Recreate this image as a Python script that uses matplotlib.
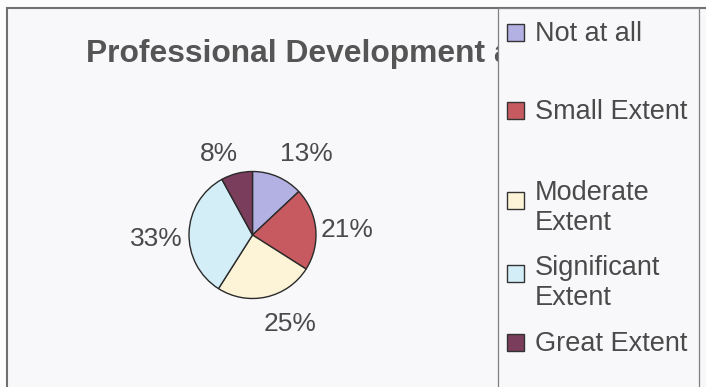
import matplotlib
matplotlib.use("Agg")
import matplotlib.pyplot as plt
from matplotlib.patches import Rectangle
import numpy as np

# Survey responses (percent of respondents)
categories = ["Not at all", "Small Extent", "Moderate Extent", "Significant Extent", "Great Extent"]
shares = [13, 21, 25, 33, 8]
colors = ["#b3b0e4", "#c65a60", "#fdf3d6", "#d4eef8", "#7b3d5c"]
legend_lines = [["Not at all"], ["Small Extent"], ["Moderate", "Extent"],
                ["Significant", "Extent"], ["Great Extent"]]
title = "Professional Development a"

W, H = 706, 387
BG = "#f8f8fa"
TXT = "#4a4a4a"
FONT = "Liberation Sans"

fig = plt.figure(figsize=(W / 100, H / 100), dpi=100)
fig.patch.set_facecolor("#fcfcfc")
ax = fig.add_axes([0, 0, 1, 1])

# pie in pixel-like coordinates (y grows downwards, so counterclockwise in
# data space reads clockwise on screen, starting at 12 o'clock)
cx, cy, r = 252.5, 235.0, 63.5
wedges, _ = ax.pie(shares, colors=colors, startangle=270, counterclock=True,
                   center=(cx, cy), radius=r, frame=True,
                   wedgeprops=dict(edgecolor="#2a2a2a", linewidth=1.0))
for w in wedges:
    w.set_zorder(2)

ax.set_xlim(0, W)
ax.set_ylim(H, 0)
ax.set_aspect("auto")
ax.axis("off")

# chart area and border
ax.add_patch(Rectangle((7, 8), W, H, facecolor=BG, edgecolor="#707070",
                       linewidth=1.5, zorder=0))

# percentage labels around the pie
label_dist = [1.56, 1.50, 1.49, 1.51, 1.41]
label_shift = [9.6, 0.9, -10.7, -2.4, -7.6]
for w, v, d, s in zip(wedges, shares, label_dist, label_shift):
    a = np.deg2rad((w.theta1 + w.theta2) / 2 + s)
    x = cx + r * d * np.cos(a)
    y = cy + r * d * np.sin(a)
    ax.text(x, y + 9.5, f"{v}%", ha="center", va="baseline",
            fontsize=19, family=FONT, color=TXT, zorder=4)

# legend box edges
legend_left, legend_right = 497.5, 699

# title, cut off where the legend box begins
t = ax.text(85.5, 62, title, ha="left", va="baseline", fontsize=22.9,
            fontweight="bold", family=FONT, color="#555555", zorder=1)
clip = Rectangle((0, 0), legend_left, H, transform=ax.transData)
t.set_clip_path(clip)

# legend box
ax.add_patch(Rectangle((legend_left, 8), legend_right - legend_left, H,
                       facecolor=BG, edgecolor="#808080", linewidth=0.9,
                       zorder=3))

square_y = [32, 110, 200, 273, 342]
baselines = [[41], [119], [200, 230], [275, 305], [351]]
for col, lines, sy, bls in zip(colors, legend_lines, square_y, baselines):
    ax.add_patch(Rectangle((507, sy - 8.5), 17, 17, facecolor=col,
                           edgecolor="#333333", linewidth=1.0, zorder=4))
    for line, bl in zip(lines, bls):
        ax.text(535, bl, line, ha="left", va="baseline", fontsize=19.5,
                family=FONT, color=TXT, zorder=4)

fig.savefig("out.png", dpi=100, facecolor=fig.get_facecolor())
